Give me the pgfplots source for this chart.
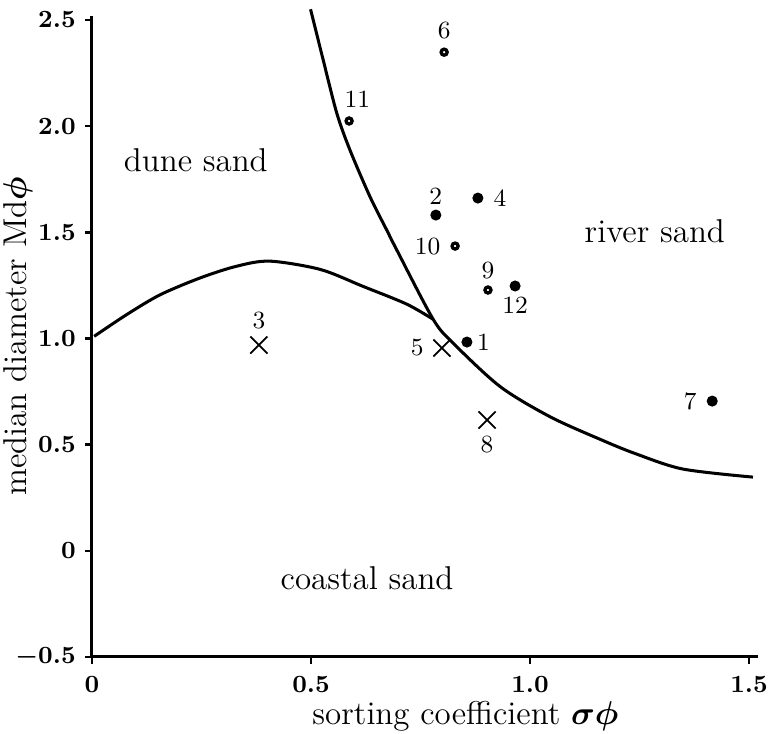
\documentclass[border=0pt]{standalone}
\usepackage{pgfplots}
\usepackage{bm}
\pgfplotsset{compat=1.18}

% sieve data: sorting coefficient vs median diameter
\pgfplotstableread{
x     y
0.856 0.983
0.785 1.581
0.881 1.661
1.416 0.705
0.966 1.247
}\riversolid
\pgfplotstableread{
x     y
0.804 2.348
0.587 2.024
0.829 1.435
0.904 1.228
}\riverring
\pgfplotstableread{
x     y
0.381 0.969
0.799 0.955
0.902 0.616
}\coastal

\begin{document}
\begin{tikzpicture}
\begin{axis}[
    scale only axis,
    width=242.1pt, height=233.2pt,
    xmin=0, xmax=1.52,
    ymin=-0.5, ymax=2.52,
    axis x line=bottom, axis y line=left,
    axis line style={-, line width=1.1pt},
    tick align=outside,
    major tick length=2.4pt,
    tick style={line width=0.9pt, black},
    xtick={0,0.5,1,1.5}, xticklabels={0,0.5,1.0,1.5},
    ytick={-0.5,0,0.5,1,1.5,2,2.5},
    yticklabels={$\bm{-}$0.5,0,0.5,1.0,1.5,2.0,2.5},
    ticklabel style={font=\small\bfseries},
    xticklabel style={yshift=-1pt},
    xlabel={sorting coefficient $\bm{\sigma\phi}$},
    ylabel={median diameter Md$\bm{\phi}$},
    label style={font=\large},
    xlabel style={at={(axis description cs:0.561,-0.092)}, anchor=center},
    ylabel style={at={(axis description cs:-0.1115,0.5)}, anchor=center},
    clip=false,
]
% boundary river / coastal
\addplot[smooth, line width=1.1pt] coordinates {
    (0.499,2.55) (0.528,2.31) (0.559,2.06) (0.589,1.887) (0.635,1.666)
    (0.673,1.51) (0.696,1.416) (0.779,1.09) (0.825,0.977)
    (0.932,0.773) (1.046,0.631) (1.160,0.525) (1.240,0.458) (1.349,0.385)
    (1.509,0.347)
};
% boundary dune / coastal
\addplot[smooth, line width=1.1pt] coordinates {
    (0.005,1.01) (0.079,1.112) (0.155,1.205) (0.247,1.285) (0.330,1.340)
    (0.406,1.364) (0.521,1.325) (0.619,1.245) (0.718,1.162) (0.779,1.09)
};
\addplot[only marks, mark=*, mark size=1.8pt] table {\riversolid};
\addplot[only marks, mark=o, mark size=1.1pt, mark options={line width=1.2pt, fill=white}] table {\riverring};
\addplot[only marks, mark=x, mark size=4.4pt, mark options={line width=0.65pt}] table {\coastal};

\node[font=\large] at (axis cs:0.237,1.84) {dune sand};
\node[font=\large] at (axis cs:1.285,1.506) {river sand};
\node[font=\large] at (axis cs:0.628,-0.128) {coastal sand};

\node[font=\small, xshift=8pt] at (axis cs:0.881,1.661) {4};
\node[font=\small, yshift=8pt] at (axis cs:0.804,2.348) {6};
\node[font=\small, xshift=3pt, yshift=8pt] at (axis cs:0.587,2.024) {11};
\node[font=\small, yshift=7pt] at (axis cs:0.785,1.581) {2};
\node[font=\small, xshift=-10pt] at (axis cs:0.829,1.435) {10};
\node[font=\small, yshift=7pt] at (axis cs:0.904,1.228) {9};
\node[font=\small, yshift=-7pt] at (axis cs:0.966,1.247) {12};
\node[font=\small, xshift=6pt] at (axis cs:0.856,0.983) {1};
\node[font=\small, xshift=-8pt] at (axis cs:1.416,0.705) {7};
\node[font=\small, yshift=9pt] at (axis cs:0.381,0.969) {3};
\node[font=\small, xshift=-9pt] at (axis cs:0.799,0.955) {5};
\node[font=\small, yshift=-9pt] at (axis cs:0.902,0.616) {8};
\end{axis}
\pgfresetboundingbox
\path ([shift={(-33.45pt,-28pt)}]current axis.south west) rectangle ++(280pt,266.9pt);
\end{tikzpicture}
\end{document}
